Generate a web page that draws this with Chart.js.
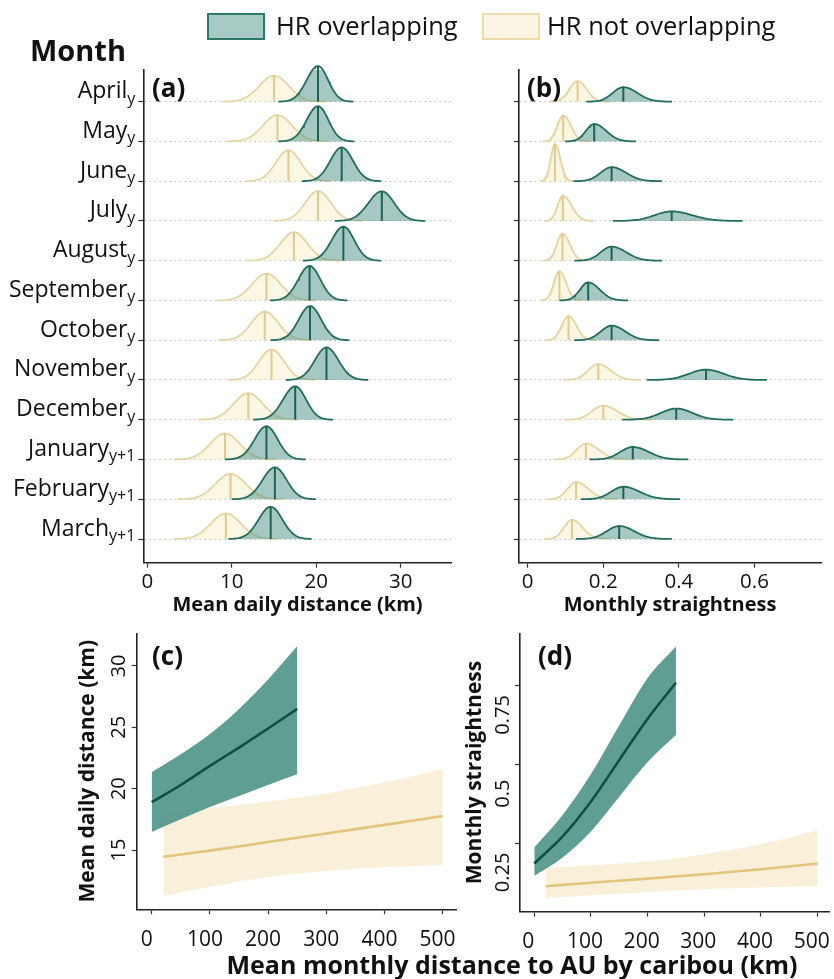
<!DOCTYPE html>
<html>
<head>
<meta charset="utf-8">
<script src="https://cdn.jsdelivr.net/npm/chart.js@4.4.0/dist/chart.umd.min.js"></script>
<style>
body{margin:0;background:#fff;font-family:'Open Sans',sans-serif;color:#111;}
#wrap{position:relative;width:834px;height:979px;overflow:hidden;background:#fff;}
canvas{position:absolute;}
.txt{position:absolute;white-space:nowrap;line-height:1;}
.box{position:absolute;box-sizing:border-box;}
</style>
</head>
<body>
<div id="wrap">
  <canvas id="chartA" style="left:0;top:0" width="460" height="620"></canvas>
  <canvas id="chartB" style="left:460px;top:0" width="374" height="620"></canvas>
  <canvas id="chartC" style="left:0;top:620px" width="490" height="359"></canvas>
  <canvas id="chartD" style="left:460px;top:620px" width="400" height="359"></canvas>

  <div class="box" style="left:207px;top:13px;width:58px;height:27px;background:#a6cac4;border:2px solid #2f7b6b;"></div>
  <div class="txt" style="left:276px;top:13px;font-size:25.5px;">HR overlapping</div>
  <div class="box" style="left:482px;top:13px;width:58px;height:27px;background:#fdf5e3;border:2px solid #ecdcab;"></div>
  <div class="txt" style="left:547px;top:13px;font-size:25.5px;">HR not overlapping</div>
  <div class="txt" style="left:30px;top:35px;font-size:29px;font-weight:bold;">Month</div>
  <div class="txt" style="left:152px;top:74px;font-size:26px;font-weight:bold;">(a)</div>
  <div class="txt" style="left:527px;top:74px;font-size:26px;font-weight:bold;">(b)</div>
  <div class="txt" style="left:152px;top:642px;font-size:26px;font-weight:bold;">(c)</div>
  <div class="txt" style="left:538px;top:642px;font-size:26px;font-weight:bold;">(d)</div>
  <div class="txt" style="left:512px;top:952px;font-size:25px;font-weight:bold;transform:translateX(-50%);">Mean monthly distance to AU by caribou (km)</div>
</div>
<script>
// months (rows, top to bottom)
var months = ['April', 'May', 'June', 'July', 'August', 'September', 'October', 'November', 'December', 'January', 'February', 'March'];
var monthSubs = ['y', 'y', 'y', 'y', 'y', 'y', 'y', 'y', 'y', 'y+1', 'y+1', 'y+1'];

// (a) mean daily distance (km): lower end, median, upper end of each density
var distOverlapLo  = [15.5, 15.5, 18.3, 22.2, 18.4, 14.5, 14.6, 16.4, 12.5, 9.2, 10.0, 9.6];
var distOverlapMed = [20.2, 20.2, 23.0, 27.75, 23.2, 19.2, 19.25, 21.2, 17.5, 14.1, 15.1, 14.6];
var distOverlapHi  = [24.4, 24.5, 27.7, 32.9, 27.7, 23.7, 23.9, 26.15, 22.0, 18.75, 19.95, 19.45];
var distNotLo  = [8.9, 9.4, 11.55, 14.9, 11.75, 8.2, 8.4, 9.5, 5.95, 3.1, 3.6, 3.1];
var distNotMed = [15.0, 15.4, 16.7, 20.2, 17.35, 14.1, 13.9, 14.7, 11.95, 9.2, 9.85, 9.3];
var distNotHi  = [21.1, 21.5, 21.8, 25.5, 22.9, 20.0, 19.5, 19.9, 17.9, 15.3, 16.1, 15.5];

// (b) monthly straightness
var strOverlapLo  = [0.155, 0.099, 0.121, 0.225, 0.123, 0.084, 0.123, 0.315, 0.250, 0.163, 0.141, 0.128];
var strOverlapMed = [0.253, 0.176, 0.222, 0.381, 0.222, 0.160, 0.222, 0.472, 0.393, 0.278, 0.253, 0.242];
var strOverlapHi  = [0.382, 0.287, 0.355, 0.569, 0.356, 0.266, 0.348, 0.633, 0.544, 0.425, 0.403, 0.381];
var strNotLo  = [0.056, 0.039, 0.033, 0.044, 0.039, 0.033, 0.045, 0.094, 0.096, 0.068, 0.050, 0.044];
var strNotMed = [0.132, 0.094, 0.072, 0.093, 0.092, 0.084, 0.108, 0.187, 0.200, 0.154, 0.128, 0.117];
var strNotHi  = [0.215, 0.165, 0.121, 0.174, 0.160, 0.145, 0.180, 0.300, 0.330, 0.275, 0.240, 0.215];

// (c) mean daily distance vs distance to AU
var cOverlapX    = [0, 50, 100, 150, 200, 250];
var cOverlapFit  = [18.9, 20.3, 21.85, 23.35, 24.9, 26.5];
var cOverlapLow  = [16.47, 17.5, 18.5, 19.4, 20.3, 21.17];
var cOverlapHigh = [21.35, 22.8, 24.45, 26.5, 28.9, 31.6];
var cNotX    = [20, 100, 200, 300, 400, 500];
var cNotFit  = [14.45, 14.95, 15.65, 16.35, 17.05, 17.77];
var cNotLow  = [11.25, 12.0, 12.8, 13.3, 13.6, 13.77];
var cNotHigh = [17.85, 18.4, 18.95, 19.6, 20.5, 21.6];

// (d) monthly straightness vs distance to AU
var dOverlapX    = [0, 50, 100, 150, 200, 250];
var dOverlapFit  = [0.186, 0.272, 0.383, 0.515, 0.646, 0.76];
var dOverlapLow  = [0.146, 0.205, 0.288, 0.398, 0.508, 0.594];
var dOverlapHigh = [0.237, 0.34, 0.47, 0.625, 0.775, 0.875];
var dNotX    = [20, 100, 200, 300, 400, 500];
var dNotFit  = [0.114, 0.125, 0.138, 0.152, 0.168, 0.186];
var dNotLow  = [0.075, 0.085, 0.095, 0.104, 0.110, 0.114];
var dNotHigh = [0.172, 0.180, 0.193, 0.215, 0.248, 0.292];

// tick labels
var aTicks = [0, 10, 20, 30];
var bTicks = [0, 0.2, 0.4, 0.6];
var distTicks = [0, 100, 200, 300, 400, 500];
var cYTicks = [15, 20, 25, 30];
var dYTicks = [0.25, 0.5, 0.75];

var FONT = 'Open Sans';
var GREEN_FILL = 'rgba(75,145,133,0.5)', GREEN_LINE = '#226d5d', GREEN_MED = '#1b6454';
var YEL_FILL = 'rgba(246,226,172,0.32)', YEL_LINE = '#e6d5a3', YEL_MED = '#e0cb8c';

// density ridges (one per month), heights scaled like a density
function ridgeSets(lo, med, hi, k, fill, stroke, medColor, order) {
  var sets = [];
  for (var i = 0; i < months.length; i++) {
    var base = months.length - 1 - i;
    var sdL = (med[i] - lo[i]) / 3.5, sdR = (hi[i] - med[i]) / 3.5;
    var peak = k / ((sdL + sdR) / 2);
    var pts = [];
    for (var j = 0; j <= 80; j++) {
      var x = lo[i] + (hi[i] - lo[i]) * j / 80;
      var sd = x < med[i] ? sdL : sdR;
      pts.push({x: x, y: base + peak * Math.exp(-0.5 * Math.pow((x - med[i]) / sd, 2))});
    }
    sets.push({data: pts, borderColor: stroke, borderWidth: 1.8, backgroundColor: fill,
      fill: {value: base}, pointRadius: 0, order: order + 1, clip: false});
    sets.push({data: [{x: med[i], y: base}, {x: med[i], y: base + peak}], borderColor: medColor,
      borderWidth: 2, pointRadius: 0, fill: false, order: order, clip: false});
  }
  return sets;
}

function ribbonSets(xs, fit, low, high, lineColor, bandColor, order) {
  function pts(a) { return xs.map(function (x, i) { return {x: x, y: a[i]}; }); }
  return [
    {data: pts(high), borderColor: 'rgba(0,0,0,0)', borderWidth: 0, pointRadius: 0, backgroundColor: bandColor, fill: '+1', order: order + 1, cubicInterpolationMode: 'monotone'},
    {data: pts(low), borderColor: 'rgba(0,0,0,0)', borderWidth: 0, pointRadius: 0, fill: false, order: order + 1, cubicInterpolationMode: 'monotone'},
    {data: pts(fit), borderColor: lineColor, borderWidth: 2.6, pointRadius: 0, fill: false, order: order, cubicInterpolationMode: 'monotone'}
  ];
}

function xAxis(min, max, ticks, title, h, tickPad, size, shift) {
  return {
    type: 'linear', min: min, max: max,
    afterBuildTicks: function (s) { s.ticks = ticks.map(function (v) { return {value: v}; }); },
    afterFit: function (s) { s.height = h; },
    grid: {drawOnChartArea: false, drawTicks: true, tickLength: 5, tickColor: '#333', tickWidth: 1.2},
    border: {display: true, color: '#222', width: 1.6},
    ticks: {font: {family: FONT, size: size}, color: '#111', padding: tickPad, maxRotation: 0, autoSkip: false,
      labelOffset: shift || 0, callback: function (v) { return String(v); }},
    title: {display: !!title, text: title, color: '#111', font: {family: FONT, size: 20, weight: 'bold'},
      padding: {top: 0, bottom: 3}}
  };
}

function ridgeY() {
  return {
    type: 'linear', min: -0.596, max: 11.797,
    afterBuildTicks: function (s) { s.ticks = months.map(function (m, i) { return {value: i}; }); },
    afterFit: function (s) { s.width = 8; },
    grid: {drawOnChartArea: true, color: '#bdbdbd', lineWidth: 1, drawTicks: true, tickLength: 5, tickColor: '#333', tickWidth: 1.2},
    border: {display: true, color: '#222', width: 1.6, dash: [1.5, 3.5]},
    ticks: {display: false}
  };
}

function lineY(min, max, ticks, title, w, titlePad) {
  return {
    type: 'linear', min: min, max: max,
    afterBuildTicks: function (s) { s.ticks = ticks.map(function (v) { return {value: v}; }); },
    afterFit: function (s) { s.width = w; },
    grid: {drawOnChartArea: false, drawTicks: true, tickLength: 5, tickColor: '#333', tickWidth: 1.2},
    border: {display: true, color: '#222', width: 1.6},
    ticks: {display: false},
    title: {display: true, text: title, color: '#111', font: {family: FONT, size: 21, weight: 'bold'},
      padding: {top: titlePad, bottom: 0}}
  };
}

var monthLabels = {
  id: 'monthLabels',
  afterDraw: function (chart) {
    var ctx = chart.ctx, ys = chart.scales.y, right = chart.chartArea.left - 8;
    ctx.save();
    ctx.fillStyle = '#111';
    ctx.textBaseline = 'alphabetic';
    months.forEach(function (m, i) {
      var py = ys.getPixelForValue(months.length - 1 - i);
      ctx.font = '16px "' + FONT + '"';
      var sw = ctx.measureText(monthSubs[i]).width;
      ctx.textAlign = 'left';
      ctx.fillText(monthSubs[i], right - sw, py + 2);
      ctx.font = '23px "' + FONT + '"';
      ctx.textAlign = 'right';
      ctx.fillText(m, right - sw, py - 3.5);
    });
    ctx.restore();
  }
};

function rotatedY(ticks, shift) {
  return {
    id: 'rotatedY',
    afterDraw: function (chart) {
      var ctx = chart.ctx, ys = chart.scales.y, x = chart.chartArea.left - 17;
      ctx.save();
      ctx.font = '20px "' + FONT + '"';
      ctx.fillStyle = '#111';
      ctx.textAlign = 'center';
      ctx.textBaseline = 'middle';
      ticks.forEach(function (v) {
        ctx.save();
        ctx.translate(x, ys.getPixelForValue(v) + shift);
        ctx.rotate(-Math.PI / 2);
        ctx.fillText(String(v), 0, 0);
        ctx.restore();
      });
      ctx.restore();
    }
  };
}

function baseOptions(pad, scales) {
  return {
    responsive: false, animation: false, devicePixelRatio: 1, events: [],
    layout: {padding: pad},
    plugins: {legend: {display: false}, tooltip: {enabled: false}},
    scales: scales
  };
}

//(a)
new Chart(document.getElementById('chartA'), {
  type: 'line',
  data: {datasets: ridgeSets(distOverlapLo, distOverlapMed, distOverlapHi, 1.14, GREEN_FILL, GREEN_LINE, GREEN_MED, 0)
    .concat(ridgeSets(distNotLo, distNotMed, distNotHi, 1.14, YEL_FILL, YEL_LINE, YEL_MED, 2))},
  options: baseOptions({left: 135.3, right: 8.3, top: 70, bottom: 0},
    {x: xAxis(-0.473, 36.02, aTicks, 'Mean daily distance (km)', 57.3, 2, 20.5), y: ridgeY()}),
  plugins: [monthLabels]
});

//(b)
new Chart(document.getElementById('chartB'), {
  type: 'line',
  data: {datasets: ridgeSets(strOverlapLo, strOverlapMed, strOverlapHi, 0.0118, GREEN_FILL, GREEN_LINE, GREEN_MED, 0)
    .concat(ridgeSets(strNotLo, strNotMed, strNotHi, 0.0118, YEL_FILL, YEL_LINE, YEL_MED, 2))},
  options: baseOptions({left: 51, right: 13, top: 70, bottom: 0},
    {x: xAxis(-0.023, 0.776, bTicks, 'Monthly straightness', 57.3, 2, 20.5), y: ridgeY()})
});

//(c)
new Chart(document.getElementById('chartC'), {
  type: 'line',
  data: {datasets: ribbonSets(cOverlapX, cOverlapFit, cOverlapLow, cOverlapHigh, '#0b5244', 'rgba(80,150,138,0.92)', 0)
    .concat(ribbonSets(cNotX, cNotFit, cNotLow, cNotHigh, '#e2c47c', 'rgba(244,222,170,0.45)', 2))},
  options: baseOptions({left: 70, right: 34, top: 13.3, bottom: 0},
    {x: xAxis(-25.8, 523, distTicks, '', 69.7, 13, 21, -5), y: lineY(10.17, 32.66, cYTicks, 'Mean daily distance (km)', 66.7, 5.5)}),
  plugins: [rotatedY(cYTicks, 0)]
});

//(d)
new Chart(document.getElementById('chartD'), {
  type: 'line',
  data: {datasets: ribbonSets(dOverlapX, dOverlapFit, dOverlapLow, dOverlapHigh, '#0b5244', 'rgba(80,150,138,0.92)', 0)
    .concat(ribbonSets(dNotX, dNotFit, dNotLow, dNotHigh, '#e2c47c', 'rgba(244,222,170,0.45)', 2))},
  options: baseOptions({left: 0, right: 31, top: 13.3, bottom: 0},
    {x: xAxis(-25.2, 520, distTicks, '', 67.3, 13, 21, -6), y: lineY(0.033, 0.917, dYTicks, 'Monthly straightness', 60, 2)}),
  plugins: [rotatedY(dYTicks, 29)]
});
</script>
</body>
</html>
